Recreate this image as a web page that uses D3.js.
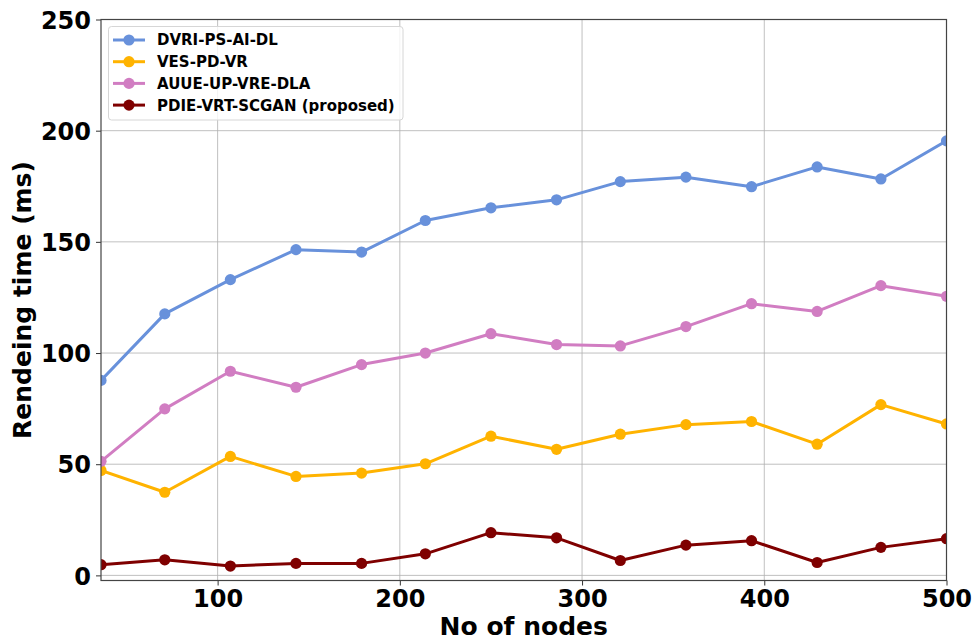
<!DOCTYPE html>
<html>
<head>
<meta charset="utf-8">
<script src="https://cdn.jsdelivr.net/npm/d3@7"></script>
<style>
  html, body { margin: 0; padding: 0; background: #fff; }
  svg { display: block; font-family: "DejaVu Sans", sans-serif; }
</style>
</head>
<body>
<svg id="chart" width="975" height="641"></svg>
<script>
// ---- data ----
const nodes = [36, 71, 107, 143, 179, 214, 250, 286, 321, 357, 393, 429, 464, 500];
const seriesNames = ["DVRI-PS-AI-DL", "VES-PD-VR", "AUUE-UP-VRE-DLA", "PDIE-VRT-SCGAN (proposed)"];
const dvri  = [87.7, 117.6, 133.0, 146.5, 145.4, 159.6, 165.3, 168.9, 177.1, 179.1, 174.8, 183.7, 178.3, 195.4];
const ves   = [47.2, 37.4, 53.5, 44.5, 46.0, 50.2, 62.6, 56.7, 63.5, 67.8, 69.2, 59.0, 76.8, 68.1];
const auue  = [51.3, 74.9, 91.8, 84.6, 94.8, 100.0, 108.7, 103.8, 103.2, 111.9, 122.2, 118.7, 130.3, 125.5];
const pdie  = [4.8, 7.0, 4.2, 5.4, 5.4, 9.7, 19.2, 16.9, 6.7, 13.6, 15.6, 5.8, 12.6, 16.5];
const xTicks = [100, 200, 300, 400, 500];
const yTicks = [0, 50, 100, 150, 200, 250];
const colors = ["#6891DB", "#FFB300", "#D17DC2", "#7F0000"];

const seriesValues = [dvri, ves, auue, pdie];

// ---- layout ----
const svg = d3.select("#chart");
const pL = 101, pR = 946.5, pT = 19.5, pB = 580.5;

const x = d3.scaleLinear().domain([36, 500]).range([pL, pR]);
const y = d3.scaleLinear().domain([-2.3, 250]).range([pB, pT]);

svg.append("defs").append("clipPath").attr("id", "plotclip")
  .append("rect").attr("x", pL).attr("y", pT)
  .attr("width", pR - pL).attr("height", pB - pT);

// grid
const grid = svg.append("g");
grid.selectAll("line.gx").data(xTicks).join("line").attr("class", "gx")
  .attr("x1", d => x(d)).attr("x2", d => x(d))
  .attr("y1", pT).attr("y2", pB)
  .attr("stroke", "#b0b0b0").attr("stroke-width", 1).attr("stroke-opacity", 0.8);
grid.selectAll("line.gy").data(yTicks).join("line").attr("class", "gy")
  .attr("y1", d => y(d)).attr("y2", d => y(d))
  .attr("x1", pL).attr("x2", pR)
  .attr("stroke", "#b0b0b0").attr("stroke-width", 1).attr("stroke-opacity", 0.8);

// series
const plot = svg.append("g").attr("clip-path", "url(#plotclip)");
const line = d3.line().x((d, i) => x(nodes[i])).y(d => y(d));
seriesValues.forEach((vals, si) => {
  const g = plot.append("g");
  g.append("path").datum(vals)
    .attr("d", line).attr("fill", "none")
    .attr("stroke", colors[si]).attr("stroke-width", 3)
    .attr("stroke-linejoin", "round");
  g.selectAll("circle").data(vals).join("circle")
    .attr("cx", (d, i) => x(nodes[i])).attr("cy", d => y(d))
    .attr("r", 5.6).attr("fill", colors[si]);
});

// axes
const xAxis = d3.axisBottom(x).tickValues(xTicks).tickSize(5).tickPadding(4).tickFormat(d3.format("d"));
const yAxis = d3.axisLeft(y).tickValues(yTicks).tickSize(5).tickPadding(5).tickFormat(d3.format("d"));

const gx = svg.append("g").attr("transform", `translate(0,${pB})`).call(xAxis);
const gy = svg.append("g").attr("transform", `translate(${pL},0)`).call(yAxis);
[gx, gy].forEach(g => {
  g.select(".domain").remove();
  g.selectAll(".tick line").attr("stroke", "#333").attr("stroke-width", 1);
  g.selectAll(".tick text").attr("fill", "#000")
    .attr("font-family", "DejaVu Sans").attr("font-weight", "bold").attr("font-size", 24);
});
gx.selectAll(".tick text").attr("dy", "0.74em");
gy.selectAll(".tick text").attr("dy", "0.36em");

// frame
svg.append("rect").attr("x", pL).attr("y", pT)
  .attr("width", pR - pL).attr("height", pB - pT)
  .attr("fill", "none").attr("stroke", "#444").attr("stroke-width", 1.2);

// axis labels
svg.append("text").attr("x", (pL + pR) / 2).attr("y", 635)
  .attr("text-anchor", "middle").attr("font-weight", "bold").attr("font-size", 25)
  .attr("fill", "#000").text("No of nodes");
svg.append("text")
  .attr("transform", `translate(31,${(pT + pB) / 2}) rotate(-90)`)
  .attr("text-anchor", "middle").attr("font-weight", "bold").attr("font-size", 25)
  .attr("fill", "#000").text("Rendeing time (ms)");

// legend
const lg = svg.append("g");
lg.append("rect").attr("x", 108.5).attr("y", 26.5).attr("width", 294.5).attr("height", 93.5)
  .attr("rx", 3).attr("fill", "#fff").attr("fill-opacity", 0.8)
  .attr("stroke", "#d6d6d6").attr("stroke-width", 1);
seriesNames.forEach((name, i) => {
  const yy = 40 + i * 21.7;
  lg.append("line").attr("x1", 113).attr("x2", 145).attr("y1", yy).attr("y2", yy)
    .attr("stroke", colors[i]).attr("stroke-width", 3);
  lg.append("circle").attr("cx", 129).attr("cy", yy).attr("r", 5.6).attr("fill", colors[i]);
  lg.append("text").attr("x", 157).attr("y", yy).attr("dy", "0.36em")
    .attr("font-weight", "bold").attr("font-size", 15).attr("fill", "#000").text(name);
});
</script>
</body>
</html>
